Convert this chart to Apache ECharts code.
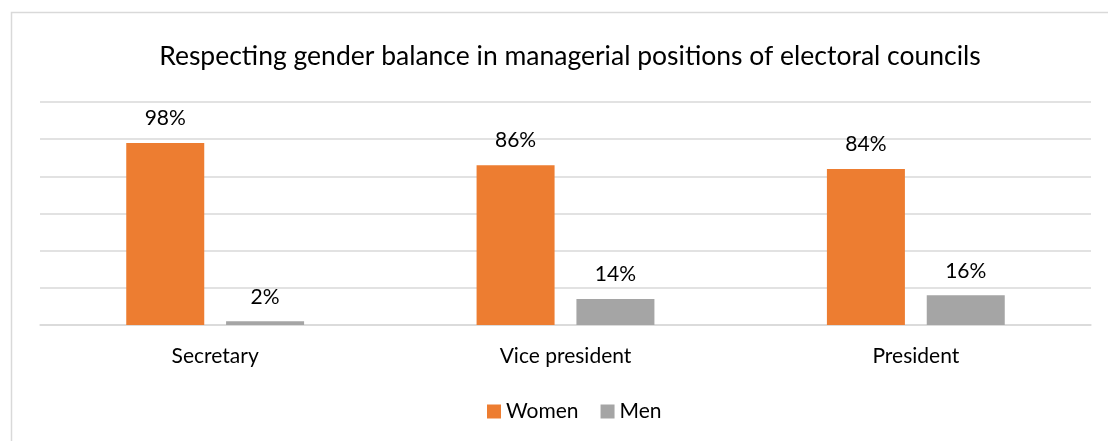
<!DOCTYPE html>
<html>
<head>
<meta charset="utf-8">
<script src="https://cdn.jsdelivr.net/npm/echarts@6/dist/echarts.min.js"></script>
<style>
  html, body { margin: 0; padding: 0; background: #ffffff; }
  #chart { width: 1108px; height: 441px; }
</style>
</head>
<body>
<div id="chart"></div>
<script>
// Share of women and men in managerial positions of electoral councils (%)
const positions = ['Secretary', 'Vice president', 'President'];
const women = [98, 86, 84];
const men = [2, 14, 16];
const seriesNames = ['Women', 'Men'];
const yTicks = [0, 20, 40, 60, 80, 100, 120];

const FONT = 'Lato';
const TEXT_SIZE = 21;

const chart = echarts.init(document.getElementById('chart'), null, { renderer: 'canvas' });

const labelStyle = {
  show: true,
  position: 'top',
  distance: 14,
  formatter: p => p.value + '%',
  color: '#000000',
  fontFamily: FONT,
  fontSize: TEXT_SIZE
};

chart.setOption({
  animation: false,
  backgroundColor: '#ffffff',
  title: {
    text: 'Respecting gender balance in managerial positions of electoral councils',
    left: 565,
    textAlign: 'center',
    top: 38,
    textStyle: { fontFamily: FONT, fontSize: 26.5, fontWeight: 'normal', color: '#000000' }
  },
  legend: {
    data: seriesNames,
    top: 396,
    left: 482,
    itemWidth: 14,
    itemHeight: 14,
    itemGap: 22,
    icon: 'rect',
    textStyle: { fontFamily: FONT, fontSize: TEXT_SIZE, color: '#000000' }
  },
  grid: { left: 40, right: 17, top: 102, bottom: 116 },
  xAxis: {
    type: 'category',
    data: positions,
    axisLine: { show: true, lineStyle: { color: '#d9d9d9', width: 1.5 } },
    axisTick: { show: false },
    axisLabel: { fontFamily: FONT, fontSize: TEXT_SIZE, color: '#000000', margin: 21 }
  },
  yAxis: {
    type: 'value',
    min: yTicks[0],
    max: yTicks[yTicks.length - 1],
    interval: yTicks[1] - yTicks[0],
    axisLine: { show: false },
    axisTick: { show: false },
    axisLabel: { show: false },
    splitLine: { lineStyle: { color: '#d9d9d9', width: 1.5 } }
  },
  series: [
    {
      name: seriesNames[0],
      type: 'bar',
      data: women,
      barWidth: 78,
      barGap: '28%',
      itemStyle: { color: '#ED7D31' },
      label: labelStyle
    },
    {
      name: seriesNames[1],
      type: 'bar',
      data: men,
      barWidth: 78,
      itemStyle: { color: '#A5A5A5' },
      label: labelStyle
    }
  ],
  graphic: [
    {
      type: 'rect',
      silent: true,
      shape: { x: 11.5, y: 12.5, width: 1300, height: 600 },
      style: { fill: null, stroke: '#d9d9d9', lineWidth: 1.5 }
    }
  ]
});
</script>
</body>
</html>
